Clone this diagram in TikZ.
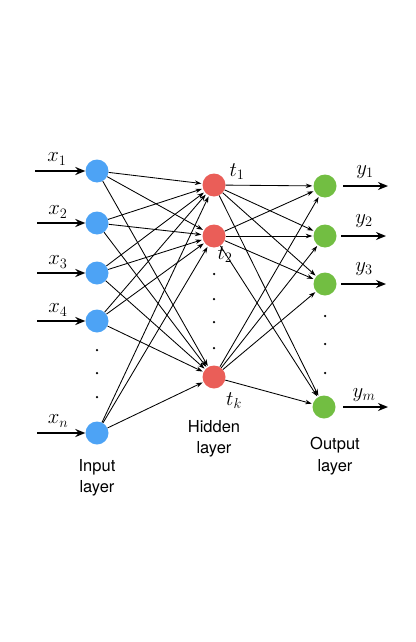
\documentclass[tikz,border=0pt]{standalone}
\usepackage{fontspec}
\setmainfont{TeX Gyre Heros}
\usetikzlibrary{arrows.meta}
\definecolor{inblue}{RGB}{77,163,245}
\definecolor{hidred}{RGB}{234,94,88}
\definecolor{outgreen}{RGB}{114,190,66}
\begin{document}
\begin{tikzpicture}[x=1pt,y=-1pt,
  neuron/.style={circle,minimum size=23pt,inner sep=0pt,draw=none},
  innode/.style={neuron,fill=inblue},
  hidnode/.style={neuron,fill=hidred},
  outnode/.style={neuron,fill=outgreen},
  conn/.style={-{Stealth[length=6.5pt,width=4.5pt]},line width=0.85pt,shorten >=1pt},
  ioarrow/.style={-{Stealth[length=10pt,width=8pt]},line width=2pt},
  vdot/.style={circle,fill=black,minimum size=2.5pt,inner sep=0pt},
  lbl/.style={font=\fontsize{20}{20}\selectfont},
  layertext/.style={align=center,font=\fontsize{16.5}{21.5}\selectfont}]
\useasboundingbox (0,0) rectangle (415,642);
% input layer
\node[innode] (i1) at (97,171) {};
\node[innode] (i2) at (97,223) {};
\node[innode] (i3) at (97,273) {};
\node[innode] (i4) at (97,321) {};
\node[innode] (in) at (97,433) {};
% hidden layer
\node[hidnode] (h1) at (214,185) {};
\node[hidnode] (h2) at (214,236) {};
\node[hidnode] (hk) at (214,377) {};
% output layer
\node[outnode] (o1) at (325,186) {};
\node[outnode] (o2) at (325,236) {};
\node[outnode] (o3) at (325,284) {};
\node[outnode] (om) at (324,407) {};
% dots
\node[vdot] (di1) at (97,350) {};
\node[vdot] (di2) at (97,373) {};
\node[vdot] (di3) at (97,397) {};
\node[vdot] (dh1) at (214,274) {};
\node[vdot] (dh2) at (214,299) {};
\node[vdot] (dh3) at (214,322) {};
\node[vdot] (dh4) at (214,348) {};
\node[vdot] (do1) at (325,316) {};
\node[vdot] (do2) at (325,344) {};
\node[vdot] (do3) at (325,373) {};
% connections
\foreach \a in {i1,i2,i3,i4,in}
  \foreach \b in {h1,h2,hk}
    \draw[conn] (\a) -- (\b);
\foreach \a in {h1,h2,hk}
  \foreach \b in {o1,o2,o3,om}
    \draw[conn] (\a) -- (\b);
% input arrows
\coordinate (s1) at (35,171);
\coordinate (s2) at (37,223);
\coordinate (s3) at (37,273);
\coordinate (s4) at (37,321);
\coordinate (sn) at (37,433);
\draw[ioarrow] (s1) -- (i1);
\draw[ioarrow] (s2) -- (i2);
\draw[ioarrow] (s3) -- (i3);
\draw[ioarrow] (s4) -- (i4);
\draw[ioarrow] (sn) -- (in);
\node[lbl] (lx1) at (57,159) {$x_1$};
\node[lbl] (lx2) at (58,212) {$x_2$};
\node[lbl] (lx3) at (58,262) {$x_3$};
\node[lbl] (lx4) at (58,310) {$x_4$};
\node[lbl] (lxn) at (58,421) {$x_n$};
% output arrows
\coordinate (e1) at (388,186);
\coordinate (e2) at (386,236);
\coordinate (e3) at (386,284);
\coordinate (em) at (388,407);
\draw[ioarrow] (o1) ++(18,0) coordinate (b1) (b1) -- (e1);
\draw[ioarrow] (o2) ++(16,0) coordinate (b2) (b2) -- (e2);
\draw[ioarrow] (o3) ++(16,0) coordinate (b3) (b3) -- (e3);
\draw[ioarrow] (om) ++(19,0) coordinate (bm) (bm) -- (em);
\node[lbl] (ly1) at (365,172) {$y_1$};
\node[lbl] (ly2) at (364,221) {$y_2$};
\node[lbl] (ly3) at (364,269) {$y_3$};
\node[lbl] (lym) at (364,395) {$y_m$};
% hidden labels
\node[lbl] (lt1) at (237,172) {$t_1$};
\node[lbl] (lt2) at (225,255) {$t_2$};
\node[lbl] (ltk) at (234,401) {$t_k$};
% layer names
\node[layertext] (linput) at (97,478) {Input\\layer};
\node[layertext] (lhidden) at (214,439) {Hidden\\layer};
\node[layertext] (loutput) at (335,456) {Output\\layer};
\end{tikzpicture}
\end{document}
